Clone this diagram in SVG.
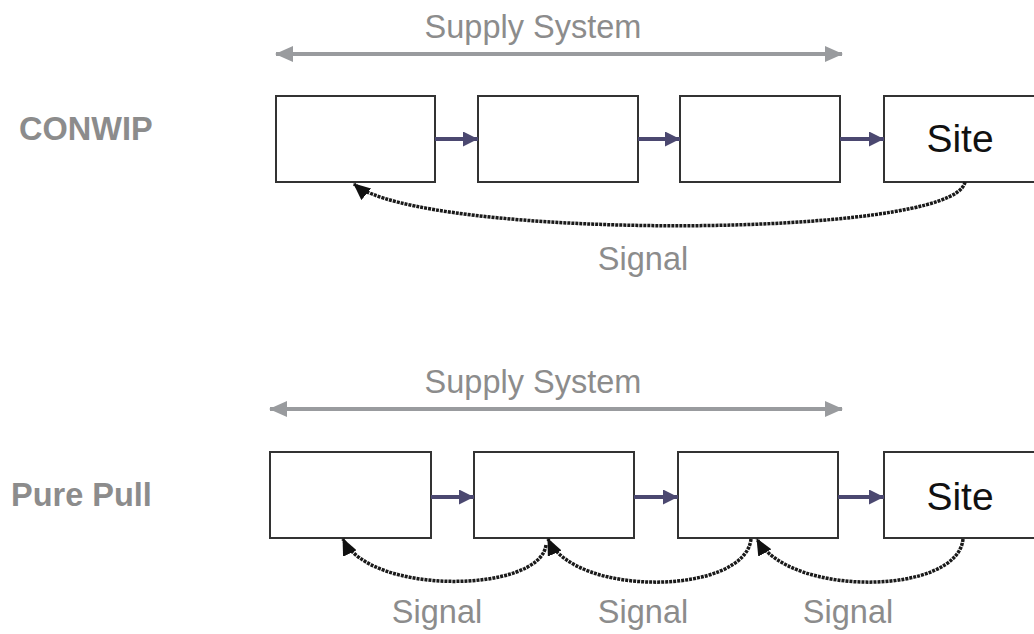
<svg xmlns="http://www.w3.org/2000/svg" width="1034" height="634" viewBox="0 0 1034 634">
<style>
.bg{fill:#ffffff}
.box{fill:#ffffff;stroke:#333333;stroke-width:2}
.lbl{font-family:"Liberation Sans",Arial,sans-serif;fill:#8c8c8c;font-size:32.5px}
.row{font-family:"Liberation Sans",Arial,sans-serif;fill:#8c8c8c;font-size:32.5px;font-weight:bold}
.site{font-family:"Liberation Sans",Arial,sans-serif;fill:#111111;font-size:39px}
.sup{stroke:#999b9e;stroke-width:4;fill:none}
.flow{stroke:#4b4870;stroke-width:4;fill:none}
.sig{stroke:#1a1a1a;stroke-width:3.5;fill:none;stroke-dasharray:3 1}
</style>
<defs>
<marker id="supA" viewBox="0 0 18 16" refX="17" refY="8" markerWidth="18" markerHeight="16" markerUnits="userSpaceOnUse" orient="auto-start-reverse">
<path d="M0,0 L18,8 L0,16 z" fill="#999b9e"/>
</marker>
<marker id="flowA" viewBox="0 0 15 15" refX="15" refY="7.5" markerWidth="15" markerHeight="15" markerUnits="userSpaceOnUse" orient="auto">
<path d="M0,0 L15,7.5 L0,15 z" fill="#4b4870"/>
</marker>
<marker id="sigA" viewBox="0 0 17 15" refX="16" refY="7.5" markerWidth="17" markerHeight="15" markerUnits="userSpaceOnUse" orient="auto">
<path d="M0,0 L17,7.5 L0,15 z" fill="#111111"/>
</marker>
</defs>
<rect class="bg" x="0" y="0" width="1034" height="634"/>

<g id="conwip-label"><text class="row" x="19" y="140">CONWIP</text></g>
<g id="purepull-label"><text class="row" x="11" y="506">Pure Pull</text></g>

<g id="supply-top"><text class="lbl" x="533" y="38" text-anchor="middle">Supply System</text></g>
<g id="supply-bottom"><text class="lbl" x="533" y="393" text-anchor="middle">Supply System</text></g>

<g id="c1"><rect class="box" x="276" y="96" width="159" height="86"/></g>
<g id="c2"><rect class="box" x="478" y="96" width="160" height="86"/></g>
<g id="c3"><rect class="box" x="680" y="96" width="160" height="86"/></g>
<g id="c4"><rect class="box" x="884" y="96" width="160" height="86"/><text class="site" x="960" y="152" text-anchor="middle">Site</text></g>

<g id="p1"><rect class="box" x="270" y="452" width="161" height="86"/></g>
<g id="p2"><rect class="box" x="474" y="452" width="160" height="86"/></g>
<g id="p3"><rect class="box" x="678" y="452" width="160" height="86"/></g>
<g id="p4"><rect class="box" x="884" y="452" width="160" height="86"/><text class="site" x="960" y="510" text-anchor="middle">Site</text></g>

<g id="connectors">
<line class="sup" x1="276" y1="54" x2="842" y2="54" marker-start="url(#supA)" marker-end="url(#supA)"/>
<line class="sup" x1="270" y1="409" x2="842" y2="409" marker-start="url(#supA)" marker-end="url(#supA)"/>

<line class="flow" x1="435" y1="139" x2="478" y2="139" marker-end="url(#flowA)"/>
<line class="flow" x1="638" y1="139" x2="680" y2="139" marker-end="url(#flowA)"/>
<line class="flow" x1="840" y1="139" x2="884" y2="139" marker-end="url(#flowA)"/>

<line class="flow" x1="431" y1="497" x2="474" y2="497" marker-end="url(#flowA)"/>
<line class="flow" x1="634" y1="497" x2="678" y2="497" marker-end="url(#flowA)"/>
<line class="flow" x1="838" y1="497" x2="884" y2="497" marker-end="url(#flowA)"/>

<path class="sig" d="M965,182 C955,240 420,240 354,184" marker-end="url(#sigA)"/>
<text class="lbl" x="643" y="270" text-anchor="middle">Signal</text>

<path class="sig" d="M546,545 C540,593 370,596 343,539" marker-end="url(#sigA)"/>
<path class="sig" d="M751,539 C745,595 575,598 548,539" marker-end="url(#sigA)"/>
<path class="sig" d="M963,539 C958,595 790,598 757,539" marker-end="url(#sigA)"/>
<text class="lbl" x="437" y="623" text-anchor="middle">Signal</text>
<text class="lbl" x="643" y="623" text-anchor="middle">Signal</text>
<text class="lbl" x="848" y="623" text-anchor="middle">Signal</text>
</g>
</svg>
